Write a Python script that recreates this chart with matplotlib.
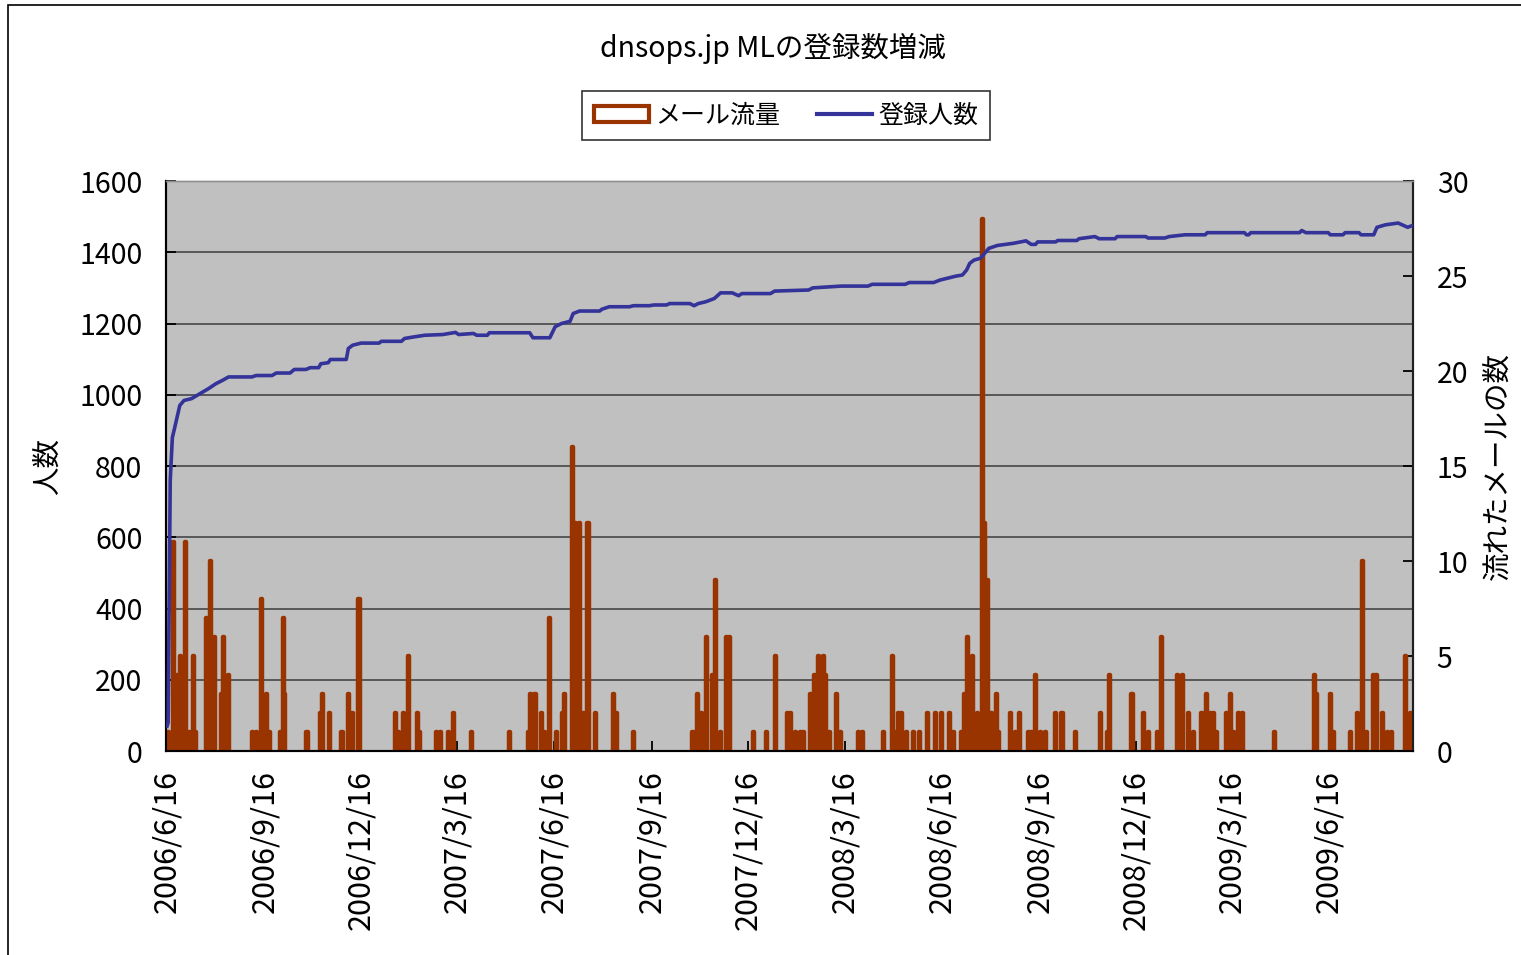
import matplotlib
matplotlib.use("Agg")
import matplotlib.pyplot as plt
import matplotlib.dates as mdates
from matplotlib.patches import Patch, Rectangle
from matplotlib.lines import Line2D
from matplotlib.ticker import FuncFormatter, MultipleLocator
import pandas as pd

plt.rcParams['font.family'] = ['Noto Sans CJK JP', 'DejaVu Sans']

# ---------------- data ----------------
start_date = "2006-06-16"
end_day = 1175

# mail traffic (messages per day), day offsets from start_date
mail_day = [1, 6, 9, 13, 17, 21, 25, 27, 37, 41, 45, 51, 53, 58, 81, 84, 89, 94, 97, 107,
            110, 111, 132, 145, 147, 153, 165, 171, 175, 181, 215, 218, 223, 228, 236, 238,
            254, 258, 265, 270, 287, 323, 341, 343, 347, 353, 356, 361, 367, 373, 375, 382,
            385, 389, 393, 397, 404, 421, 424, 440, 496, 500, 504, 509, 514, 517, 522, 528,
            530, 553, 565, 574, 585, 588, 593, 597, 600, 607, 611, 614, 619, 621, 625, 631,
            635, 652, 656, 676, 684, 687, 690, 693, 697, 704, 710, 717, 725, 730, 738, 742,
            749, 752, 755, 760, 764, 769, 771, 774, 777, 782, 784, 795, 800, 804, 812, 815,
            819, 824, 828, 838, 844, 857, 880, 887, 889, 910, 921, 926, 934, 938, 953, 958,
            963, 968, 976, 980, 984, 987, 990, 999, 1003, 1006, 1010, 1014, 1044, 1082, 1084,
            1097, 1100, 1116, 1123, 1127, 1131, 1138, 1141, 1146, 1151, 1155, 1168, 1173]
mail_count = [1, 11, 4, 5, 11, 1, 5, 1, 7, 10, 6, 3, 6, 4, 1, 1, 8, 3, 1, 1,
              7, 3, 1, 2, 3, 2, 1, 3, 2, 8, 2, 1, 2, 5, 2, 1,
              1, 1, 1, 2, 1, 1, 1, 3, 3, 2, 1, 7, 1, 2, 3, 16,
              12, 12, 2, 12, 2, 3, 2, 1, 1, 3, 2, 6, 4, 9, 1, 6,
              6, 1, 1, 5, 2, 2, 1, 1, 1, 3, 4, 5, 5, 4, 1, 3,
              1, 1, 1, 1, 5, 1, 2, 2, 1, 1, 1, 2, 2, 2, 2, 1,
              1, 3, 6, 5, 2, 28, 12, 9, 2, 3, 1, 2, 1, 2, 1, 1,
              4, 1, 1, 2, 2, 1, 2, 1, 4, 3, 2, 1, 1, 6, 4, 4,
              2, 1, 2, 3, 2, 2, 1, 2, 3, 1, 2, 2, 1, 4, 3,
              3, 1, 1, 2, 10, 1, 4, 4, 2, 1, 1, 5, 2]

# registered members, day offsets from start_date
member_day = [0, 1, 3, 5, 7, 12, 16, 23, 31, 39, 46, 52, 58, 80, 84, 99, 103, 116, 120, 131,
              135, 143, 145, 152, 154, 169, 171, 175, 183, 200, 202, 221, 224, 232, 243, 260,
              272, 275, 289, 292, 302, 304, 342, 345, 361, 366, 372, 380, 383, 389, 408, 410,
              417, 436, 440, 455, 459, 471, 474, 493, 497, 501, 508, 516, 522, 533, 539, 542,
              569, 573, 605, 609, 636, 661, 665, 696, 700, 723, 729, 736, 744, 750, 754, 757,
              761, 767, 771, 775, 783, 798, 810, 815, 819, 821, 838, 840, 858, 860, 875, 879,
              894, 896, 923, 925, 941, 945, 960, 979, 981, 1016, 1018, 1020, 1022, 1068, 1070,
              1074, 1095, 1097, 1109, 1111, 1124, 1126, 1138, 1141, 1149, 1161, 1170, 1176]
member_count = [70, 80, 760, 880, 905, 970, 984, 989, 1003, 1017, 1031, 1040, 1050, 1050, 1054,
                1054, 1061, 1061, 1071, 1071, 1076, 1076, 1087, 1090, 1099, 1099, 1130, 1139,
                1145, 1145, 1150, 1150, 1158, 1162, 1167, 1169, 1175, 1169, 1172, 1167, 1167,
                1174, 1174, 1160, 1160, 1191, 1200, 1206, 1228, 1235, 1235, 1240, 1247, 1247,
                1250, 1250, 1252, 1252, 1256, 1256, 1250, 1256, 1261, 1270, 1286, 1286, 1278,
                1284, 1284, 1291, 1294, 1300, 1305, 1305, 1310, 1310, 1315, 1315, 1322, 1327,
                1333, 1336, 1350, 1369, 1378, 1383, 1397, 1411, 1419, 1425, 1432, 1422, 1422,
                1429, 1429, 1433, 1433, 1438, 1444, 1438, 1438, 1444, 1444, 1440, 1440, 1444,
                1449, 1449, 1455, 1455, 1449, 1449, 1455, 1455, 1461, 1455, 1455, 1449, 1449,
                1455, 1455, 1449, 1449, 1470, 1477, 1482, 1470, 1477]

tick_dates = ["2006-06-16", "2006-09-16", "2006-12-16", "2007-03-16", "2007-06-16",
              "2007-09-16", "2007-12-16", "2008-03-16", "2008-06-16", "2008-09-16",
              "2008-12-16", "2009-03-16", "2009-06-16"]

title = "dnsops.jp MLの登録数増減"
bar_label = "メール流量"
line_label = "登録人数"
left_label = "人数"
right_label = "流れたメールの数"

# ---------------- build ----------------
t0 = pd.Timestamp(start_date)
mail_dates = [t0 + pd.Timedelta(days=d) for d in mail_day]
member_dates = [t0 + pd.Timedelta(days=d) for d in member_day]
ticks = [pd.Timestamp(t) for t in tick_dates]

BAR = '#993300'
LINE = '#333399'
FS = 20.5
FSX = 22
FSL = 18

fig = plt.figure(figsize=(15.21, 9.55), dpi=100)
fig.patch.set_facecolor('white')

# outer chart border
fig.patches.append(Rectangle((8 / 1521, -0.05), 1.2, 1 - 5 / 955 + 0.05, transform=fig.transFigure,
                             fill=False, edgecolor='black', linewidth=1.2, zorder=0))

L, R, B, T = 166 / 1521, 1413 / 1521, 1 - 751 / 955, 1 - 181 / 955
ax = fig.add_axes([L, B, R - L, T - B])
ax.set_facecolor('#C0C0C0')
ax.set_ylim(0, 1600)
ax.yaxis.set_major_locator(MultipleLocator(200))
ax.grid(axis='y', color='#505050', linewidth=1.3)
ax.set_axisbelow(True)
ax.set_xlim(t0 - pd.Timedelta(days=1), t0 + pd.Timedelta(days=end_day))

ax2 = ax.twinx()
ax2.bar(mail_dates, mail_count, width=1.0, color=BAR, edgecolor=BAR, linewidth=3.2,
        joinstyle='round', zorder=2)
ax2.set_ylim(0, 30)
ax2.yaxis.set_major_locator(MultipleLocator(5))

ax3 = ax.twinx()
ax3.set_ylim(0, 1600)
ax3.plot(member_dates, member_count, color=LINE, linewidth=2.6, solid_joinstyle='round')
ax3.set_axis_off()

ax.set_xticks(ticks)
ax.xaxis.set_major_formatter(FuncFormatter(
    lambda v, p: (lambda d: f"{d.year}/{d.month}/{d.day}")(mdates.num2date(v))))
for lbl in ax.get_xticklabels():
    lbl.set_rotation(90)

ax.tick_params(axis='x', direction='in', length=7, width=1.3, pad=14, labelsize=FSX)
ax.tick_params(axis='y', direction='in', length=7, width=1.3, pad=17, labelsize=FS)
ax2.tick_params(axis='y', direction='in', length=7, width=1.3, pad=17, labelsize=FS)

for a in (ax, ax2):
    a.spines['top'].set_color('#909090')
    a.spines['top'].set_linewidth(1.0)
    a.spines['left'].set_linewidth(1.5)
    a.spines['bottom'].set_linewidth(1.5)
    a.spines['right'].set_linewidth(1.5)
    a.spines['right'].set_color('#202020')

ax.set_ylabel(left_label, fontsize=FS, labelpad=12)
ax2.set_ylabel(right_label, fontsize=FS, labelpad=10, rotation=90)

fig.text(773 / 1521, 1 - 48 / 955, title, ha='center', va='center', fontsize=FS)

handles = [Patch(facecolor='white', edgecolor=BAR, linewidth=3),
           Line2D([0], [0], color=LINE, linewidth=3)]
leg = fig.legend(handles, [bar_label, line_label], loc='center',
                 bbox_to_anchor=(786 / 1521, 1 - 115.5 / 955), ncol=2, fontsize=FSL,
                 frameon=True, fancybox=False, edgecolor='black', handlelength=2.2,
                 handleheight=0.6, columnspacing=1.5, handletextpad=0.25,
                 borderpad=0.45, borderaxespad=0)
leg.get_frame().set_linewidth(1.2)

fig.savefig("out.png", dpi=100)
